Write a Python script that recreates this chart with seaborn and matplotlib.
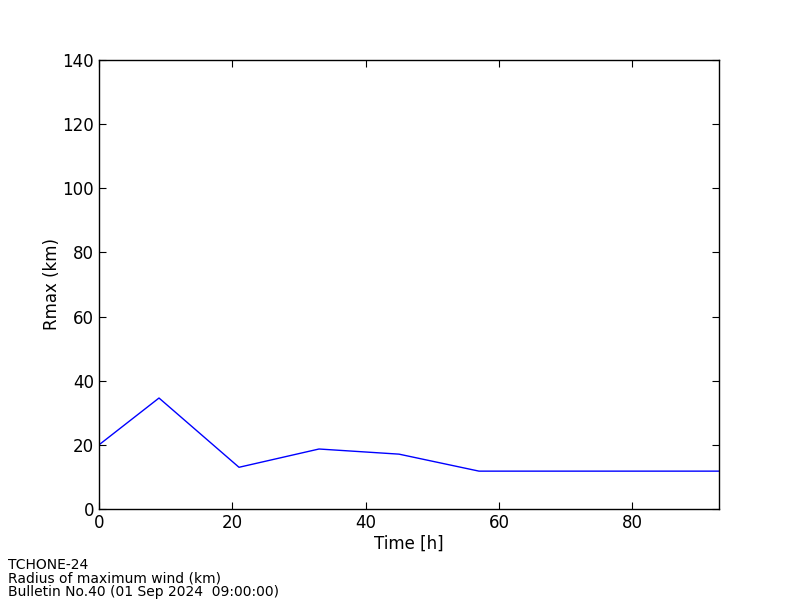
import matplotlib
matplotlib.use("Agg")
import matplotlib.pyplot as plt
import seaborn as sns
import pandas as pd

# forecast time (h) and radius of maximum wind (km)
time_h = [0, 9, 21, 33, 45, 57, 69, 81, 93]
rmax_km = [20, 34.6, 13.0, 18.7, 17.1, 11.8, 11.8, 11.8, 11.8]

footer_lines = ["TCHONE-24", "Radius of maximum wind (km)", "Bulletin No.40 (01 Sep 2024  09:00:00)"]

sns.set_style("ticks")
plt.rcParams["font.family"] = ["DejaVu Sans"]
plt.rcParams["xtick.direction"] = "in"
plt.rcParams["ytick.direction"] = "in"
plt.rcParams["xtick.top"] = True
plt.rcParams["ytick.right"] = True
plt.rcParams["text.color"] = "black"
plt.rcParams["axes.labelcolor"] = "black"
plt.rcParams["xtick.labelcolor"] = "black"
plt.rcParams["ytick.labelcolor"] = "black"

df = pd.DataFrame({"time": time_h, "rmax": rmax_km})

fig = plt.figure(figsize=(8, 6), dpi=100)
ax = fig.add_axes([0.12375, 0.1517, 0.775, 0.7483])
sns.lineplot(data=df, x="time", y="rmax", color="blue", linewidth=1, ax=ax)

ax.set_xlim(0, 93)
ax.set_ylim(0, 140)
ax.set_xticks([0, 20, 40, 60, 80])
ax.set_yticks(range(0, 141, 20))
ax.tick_params(labelsize=12, length=5, width=0.8, color="black")
for s in ax.spines.values():
    s.set_color("black")
    s.set_linewidth(1)
ax.set_xlabel("Time [h]", fontsize=12, labelpad=2)
ax.set_ylabel("Rmax (km)", fontsize=12, labelpad=1)

fig.text(0.01, 0.002, "\n".join(footer_lines), fontsize=10, ha="left", va="bottom", linespacing=0.95)

fig.savefig("out.png", dpi=100)
